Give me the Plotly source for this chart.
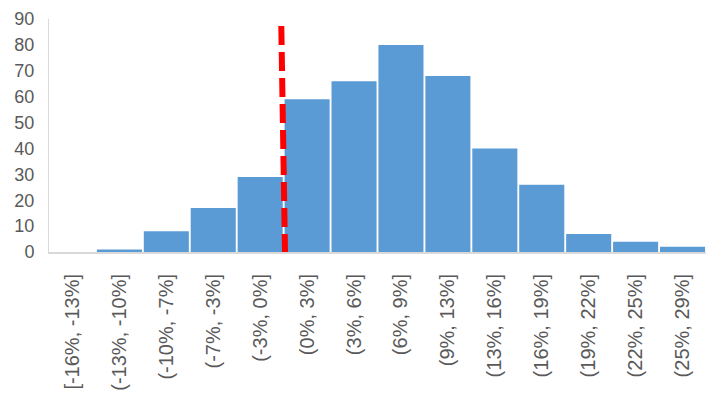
import plotly.graph_objects as go

categories = ["[-16%, -13%]", "(-13%, -10%]", "(-10%, -7%]", "(-7%, -3%]", "(-3%, 0%]",
              "(0%, 3%]", "(3%, 6%]", "(6%, 9%]", "(9%, 13%]", "(13%, 16%]",
              "(16%, 19%]", "(19%, 22%]", "(22%, 25%]", "(25%, 29%]"]
counts = [0, 1, 8, 17, 29, 59, 66, 80, 68, 40, 26, 7, 4, 2]
y_ticks = [0, 10, 20, 30, 40, 50, 60, 70, 80, 90]

# zero-return threshold marker (category-index coordinates)
threshold_top = (4.45, 87.3)
threshold_bottom = (4.53, -1.0)

fig = go.Figure()
fig.add_trace(go.Bar(
    x=categories, y=counts,
    marker=dict(color="#5B9BD5", line=dict(width=0)),
    showlegend=False,
))

fig.add_shape(type="line", xref="x", yref="y",
              x0=threshold_top[0], y0=threshold_top[1],
              x1=threshold_bottom[0], y1=threshold_bottom[1],
              line=dict(color="#FF0000", width=6, dash="19px,7px"))

fig.update_layout(
    width=714, height=399,
    margin=dict(l=49, r=8, t=19, b=147),
    paper_bgcolor="white", plot_bgcolor="white",
    bargap=0.04,
    font=dict(family="Liberation Sans, Arial", color="#595959"),
)
fig.update_xaxes(
    type="category", range=[-0.5, 13.5],
    tickangle=-90, tickfont=dict(size=20, color="#595959"),
    showline=True, linecolor="#D9D9D9", linewidth=2,
    ticks="", showgrid=False, zeroline=False,
    ticklabelstandoff=12,
)
fig.update_yaxes(
    range=[0, 90], tickvals=y_ticks,
    tickfont=dict(size=18, color="#595959"),
    showline=True, linecolor="#D9D9D9", linewidth=1,
    ticks="", showgrid=False, zeroline=False,
    ticklabelstandoff=10,
)

fig.write_html("out.html")
